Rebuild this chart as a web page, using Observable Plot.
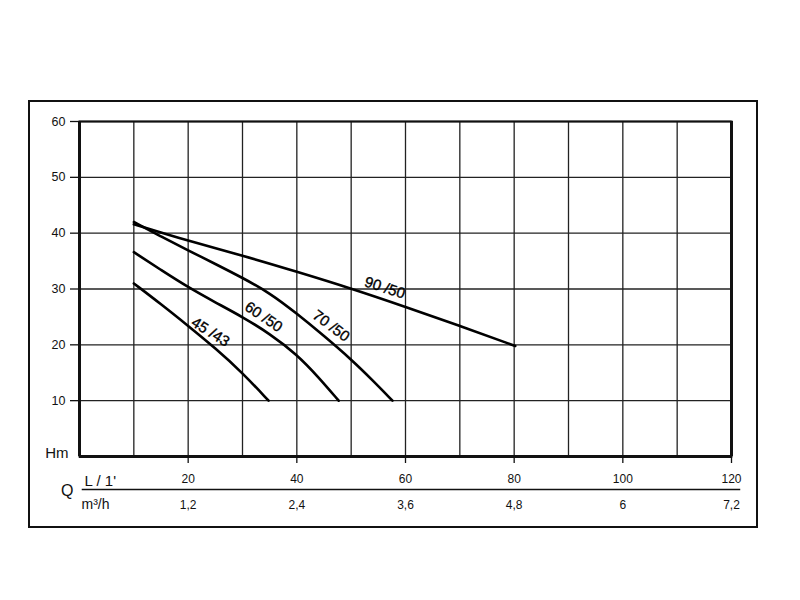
<!DOCTYPE html>
<html>
<head>
<meta charset="utf-8">
<script src="https://cdn.jsdelivr.net/npm/d3@7"></script>
<script src="https://cdn.jsdelivr.net/npm/@observablehq/plot@0.6"></script>
<style>
  html, body { margin: 0; padding: 0; background: #fff; }
  #wrap { position: relative; width: 800px; height: 600px; }
  #outer { position: absolute; left: 28px; top: 100px; width: 730px; height: 428px;
           box-sizing: border-box; border: 2.5px solid #111; pointer-events: none; }
  svg { display: block; }
</style>
</head>
<body>
<div id="wrap"><div id="outer"></div></div>
<script>
// Flow Q (L/min) and head H (m) for each pump curve
const q45 = [10, 15, 20, 25, 30, 34.8];
const h45 = [31.0, 27.3, 23.4, 19.4, 15.0, 10.0];
const q60 = [10, 15, 20, 25, 30, 35, 40, 44, 47.7];
const h60 = [36.6, 33.4, 30.3, 27.6, 25.0, 22.0, 18.3, 14.2, 10.0];
const q70 = [10, 15, 20, 25, 30, 35, 40, 45, 50, 54, 57.6];
const h70 = [42.0, 39.4, 36.9, 34.5, 32.0, 29.3, 25.6, 21.6, 17.4, 13.6, 10.0];
const q90 = [10, 20, 30, 40, 50, 60, 70, 80.2];
const h90 = [41.6, 38.6, 36.0, 33.1, 30.1, 26.8, 23.4, 19.8];

const seriesNames = ["45 /43", "60 /50", "70 /50", "90 /50"];
const labelQ = [24.1, 33.9, 46.3, 56.2];
const labelH = [22.3, 25.0, 23.4, 30.2];
const labelAngle = [32, 34, 37, 18];

const qTicks = [20, 40, 60, 80, 100, 120];
const m3Ticks = ["1,2", "2,4", "3,6", "4,8", "6", "7,2"];
const qGrid = [10, 20, 30, 40, 50, 60, 70, 80, 90, 100, 110];
const hTicks = [10, 20, 30, 40, 50, 60];

const curves = [[q45, h45], [q60, h60], [q70, h70], [q90, h90]];
const table = curves.flatMap(([qs, hs], k) => qs.map((q, i) => ({series: seriesNames[k], q, h: hs[i]})));
const labels = seriesNames.map((name, i) => ({name, q: labelQ[i], h: labelH[i], angle: labelAngle[i]}));
const origin = [{q: 0, h: 0}];
const sep = [{h: 0, x1: 0.5, x2: 121.7}];

const font = "'Liberation Sans', Arial, Helvetica, sans-serif";

const chart = Plot.plot({
  width: 800,
  height: 600,
  marginLeft: 79,
  marginRight: 69,
  marginTop: 121,
  marginBottom: 144,
  style: {fontFamily: font, fontSize: "12px", color: "#111", background: "transparent"},
  x: {domain: [0, 120]},
  y: {domain: [0, 60]},
  marks: [
    Plot.gridX(qGrid, {stroke: "#222", strokeOpacity: 1, strokeWidth: 1.3}),
    Plot.gridY(hTicks, {stroke: "#222", strokeOpacity: 1, strokeWidth: 1.3}),
    Plot.frame({stroke: "#111", strokeWidth: 2}),
    Plot.ruleX([0, 120], {stroke: "#111", strokeWidth: 3}),
    Plot.ruleY([0], {stroke: "#111", strokeWidth: 3}),
    Plot.axisY({ticks: hTicks, tickSize: 9, tickPadding: 5, fontSize: 12.5, label: null, stroke: "#111", strokeWidth: 1.3}),
    Plot.axisX({ticks: qTicks, tickSize: 7, tickPadding: 11, fontSize: 12, label: null, stroke: "#111", strokeWidth: 1.3}),
    Plot.axisX({ticks: qTicks, tickSize: 0, tickPadding: 44, fontSize: 12, label: null,
      tickFormat: (d) => m3Ticks[qTicks.indexOf(d)]}),
    Plot.ruleY(sep, {y: "h", x1: "x1", x2: "x2", dy: 33, stroke: "#111", strokeWidth: 1.3}),
    Plot.line(table, {x: "q", y: "h", z: "series", stroke: "#000", strokeWidth: 2.6, curve: "basis"}),
    Plot.text(labels, {x: "q", y: "h", text: "name", rotate: "angle", fontSize: 15, fill: "#000",
      stroke: "#000", strokeWidth: 0.35, textAnchor: "middle", lineAnchor: "middle"}),
    Plot.text(origin, {x: "q", y: "h", text: () => "Hm", fontSize: 15, textAnchor: "end", lineAnchor: "bottom", dx: -11, dy: 1, fill: "#111"}),
    Plot.text(origin, {x: "q", y: "h", text: () => "Q", fontSize: 16, textAnchor: "start", lineAnchor: "bottom", dx: -18.5, dy: 39, fill: "#111"}),
    Plot.text(origin, {x: "q", y: "h", text: () => "L / 1'", fontSize: 15, textAnchor: "start", lineAnchor: "bottom", dx: 5, dy: 29, fill: "#111"}),
    Plot.text(origin, {x: "q", y: "h", text: () => "m³/h", fontSize: 14, textAnchor: "start", lineAnchor: "bottom", dx: 2, dy: 52, fill: "#111"})
  ]
});
document.getElementById("wrap").insertBefore(chart, document.getElementById("outer"));
</script>
</body>
</html>
